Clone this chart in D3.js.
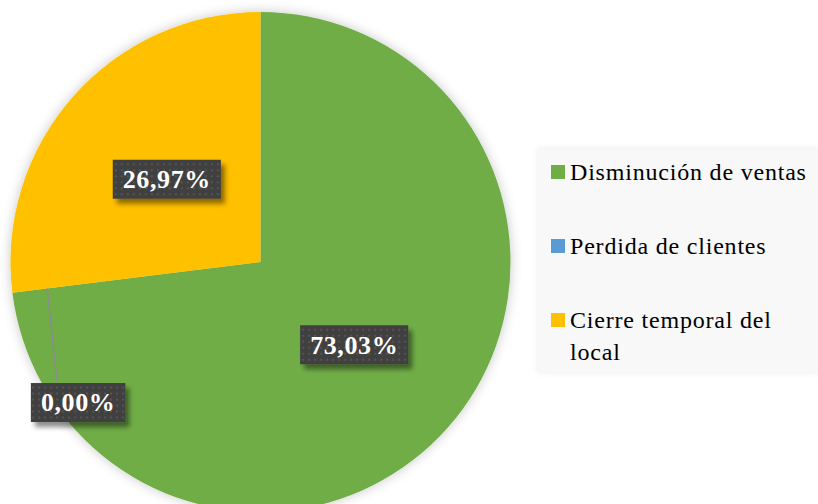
<!DOCTYPE html>
<html><head><meta charset="utf-8">
<script src="https://cdn.jsdelivr.net/npm/d3@7"></script>
<style>html,body{margin:0;padding:0;background:#fff;}svg{display:block;} svg text{font-family:"Liberation Serif","Times New Roman",Times,serif;}</style>
</head><body>
<script>
const categories = ["Disminución de ventas", "Perdida de clientes", "Cierre temporal del local"];
const values = [73.03, 0.00, 26.97];
const labels = ["73,03%", "0,00%", "26,97%"];
const colors = ["#70AD47", "#5B9BD5", "#FFC000"];
const legendLines = [["Disminución de ventas"], ["Perdida de clientes"], ["Cierre temporal del", "local"]];

const W = 818, H = 504;
const cx = 260.5, cy = 262, R = 250;
const svg = d3.select("body").append("svg").attr("width", W).attr("height", H);

const defs = svg.append("defs");
const f1 = defs.append("filter").attr("id", "pieShadow").attr("x", "-20%").attr("y", "-20%").attr("width", "140%").attr("height", "140%");
f1.append("feGaussianBlur").attr("in", "SourceAlpha").attr("stdDeviation", 6).attr("result", "b");
f1.append("feFlood").attr("flood-color", "#000").attr("flood-opacity", 0.22);
f1.append("feComposite").attr("in2", "b").attr("operator", "in").attr("result", "s");
const m1 = f1.append("feMerge"); m1.append("feMergeNode").attr("in", "s"); m1.append("feMergeNode").attr("in", "SourceGraphic");

const f2 = defs.append("filter").attr("id", "boxShadow").attr("x", "-20%").attr("y", "-30%").attr("width", "150%").attr("height", "180%");
f2.append("feGaussianBlur").attr("in", "SourceAlpha").attr("stdDeviation", 2.5).attr("result", "b");
f2.append("feOffset").attr("in", "b").attr("dx", 4).attr("dy", 5).attr("result", "o");
f2.append("feFlood").attr("flood-color", "#000").attr("flood-opacity", 0.45);
f2.append("feComposite").attr("in2", "o").attr("operator", "in").attr("result", "s");
const m2 = f2.append("feMerge"); m2.append("feMergeNode").attr("in", "s"); m2.append("feMergeNode").attr("in", "SourceGraphic");

const f3 = defs.append("filter").attr("id", "legShadow").attr("x", "-10%").attr("y", "-10%").attr("width", "120%").attr("height", "120%");
f3.append("feGaussianBlur").attr("in", "SourceAlpha").attr("stdDeviation", 3).attr("result", "b");
f3.append("feFlood").attr("flood-color", "#000").attr("flood-opacity", 0.08);
f3.append("feComposite").attr("in2", "b").attr("operator", "in").attr("result", "s");
const m3 = f3.append("feMerge"); m3.append("feMergeNode").attr("in", "s"); m3.append("feMergeNode").attr("in", "SourceGraphic");

const pat = defs.append("pattern").attr("id", "dots").attr("width", 6).attr("height", 6).attr("patternUnits", "userSpaceOnUse");
pat.append("rect").attr("width", 6).attr("height", 6).attr("fill", "#404040");
pat.append("rect").attr("x", 2).attr("y", 2).attr("width", 2).attr("height", 2).attr("fill", "#555555");

const lg = svg.append("g");
lg.append("rect").attr("x", 538).attr("y", 149).attr("width", 284).attr("height", 223)
  .attr("fill", "#f8f8f8").attr("filter", "url(#legShadow)");

const pie = d3.pie().sort(null).value(d => d).startAngle(0).endAngle(2 * Math.PI);
const arcs = pie(values);
const arc = d3.arc().innerRadius(0).outerRadius(R);
const labelArc = d3.arc().innerRadius(R * 0.5).outerRadius(R * 0.5);

const g = svg.append("g").attr("transform", `translate(${cx},${cy})`);
g.append("g").attr("filter", "url(#pieShadow)")
  .selectAll("path").data(arcs).join("path")
  .attr("d", arc).attr("fill", (d, i) => colors[i]);

// approximate advance widths of Liberation Serif Bold (em units)
const adv = ch => (ch === "%" ? 1.0 : ch === "," ? 0.25 : 0.5);
const labelSize = 26, labelSpacing = 0.6;
arcs.forEach((d, i) => {
  let x, y;
  if (d.endAngle - d.startAngle > 0.01) {
    [x, y] = labelArc.centroid(d);
  } else {
    const a = d.startAngle;
    const p0 = [Math.sin(a) * R * 0.86, -Math.cos(a) * R * 0.86];
    x = p0[0] + 31; y = p0[1] + 114;
    g.append("line").attr("x1", p0[0]).attr("y1", p0[1]).attr("x2", x - 21).attr("y2", y - 20)
      .attr("stroke", "#8c8c8c").attr("stroke-width", 1.5);
  }
  const chars = Array.from(labels[i]);
  const tw = chars.reduce((s, c) => s + adv(c), 0) * labelSize + chars.length * labelSpacing;
  const bw = tw + 20, bh = 39;
  const lbl = g.append("g").attr("transform", `translate(${x},${y})`);
  lbl.append("rect").attr("x", -bw / 2).attr("y", -bh / 2).attr("width", bw).attr("height", bh)
    .attr("fill", "url(#dots)").attr("filter", "url(#boxShadow)");
  lbl.append("text").attr("x", -tw / 2).attr("dy", "0.34em")
    .attr("font-weight", "bold").attr("font-size", labelSize).attr("letter-spacing", labelSpacing)
    .attr("fill", "#fff").text(labels[i]);
});

const ly0 = 180, lstep = 74, lineH = 32;
categories.forEach((c, i) => {
  const y = ly0 + i * lstep;
  lg.append("rect").attr("x", 551).attr("y", y - 15).attr("width", 14).attr("height", 14).attr("fill", colors[i]);
  const t = lg.append("text").attr("x", 570).attr("y", y)
    .attr("font-size", 24).attr("letter-spacing", 0.8).attr("fill", "#000");
  legendLines[i].forEach((ln, k) => {
    t.append("tspan").attr("x", 570).attr("y", y + k * lineH).text(ln);
  });
});
</script>
</body></html>
